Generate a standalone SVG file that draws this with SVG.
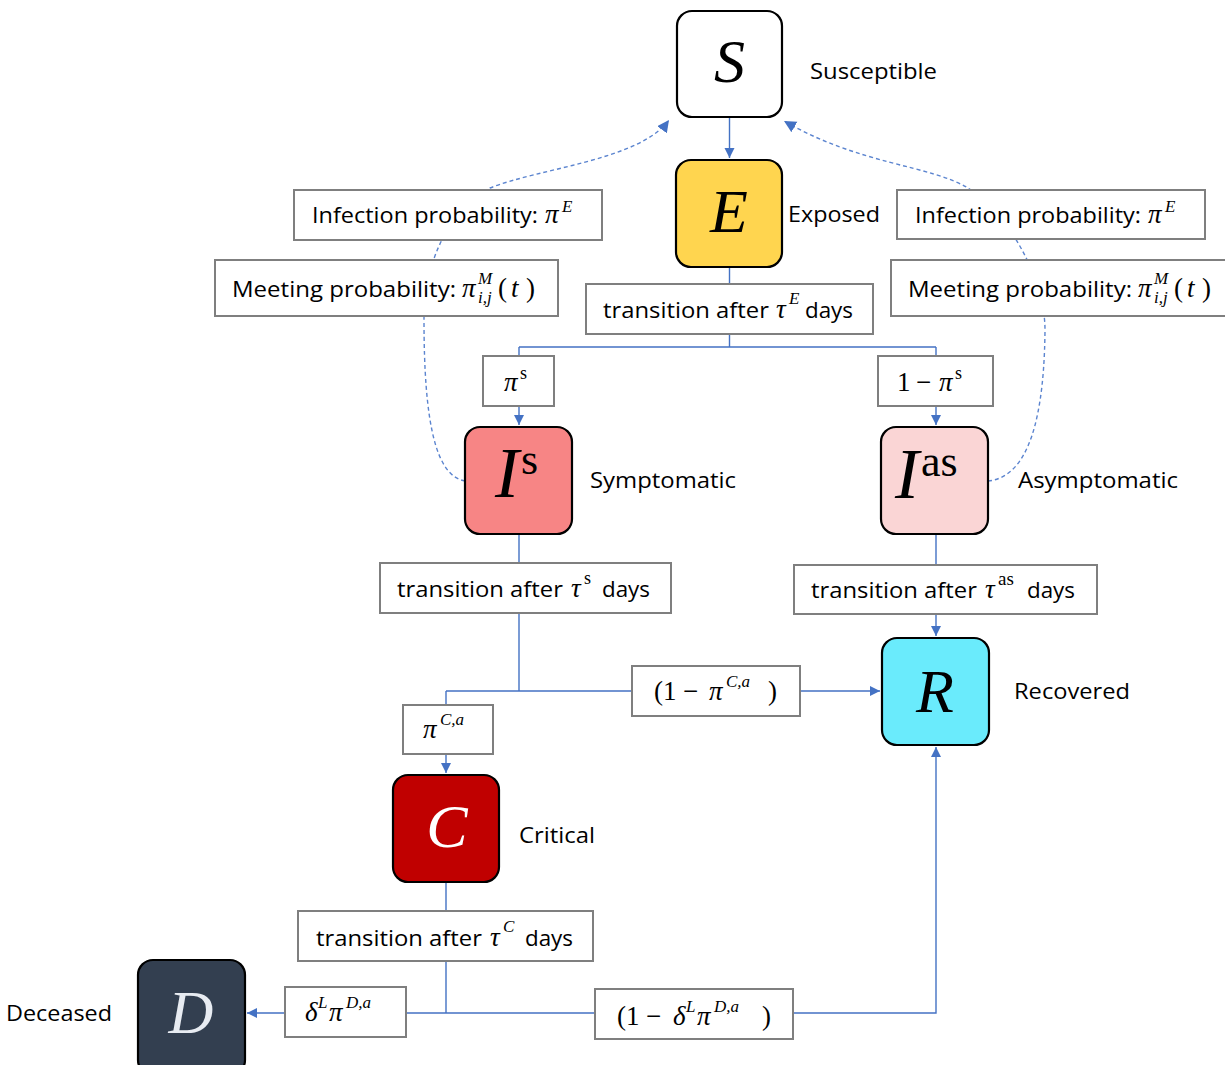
<svg xmlns="http://www.w3.org/2000/svg" width="1225" height="1065" viewBox="0 0 1225 1065">
<style>
.node rect{stroke:#000;stroke-width:2.2}
.box{fill:#fff;stroke:#7f7f7f;stroke-width:2}
.t{font-family:"Open Sans","Noto Sans",sans-serif;font-size:22px;fill:#000}
.m{font-family:"Liberation Serif","DejaVu Serif",serif;font-style:italic;font-size:27px;fill:#000}
.mu{font-family:"Liberation Serif","DejaVu Serif",serif;font-size:27px;fill:#000}
.ms{font-family:"Liberation Serif","DejaVu Serif",serif;font-style:italic;font-size:17px;fill:#000}
.msu{font-family:"Liberation Serif","DejaVu Serif",serif;font-size:18px;fill:#000}
.big{font-family:"Liberation Serif","DejaVu Serif",serif;font-style:italic;font-size:62px;text-anchor:middle}
.line{fill:none;stroke:#4472c4;stroke-width:1.4}
.dash{fill:none;stroke:#5b84cf;stroke-width:1.4;stroke-dasharray:4 3}
</style>
<defs>
<marker id="ah" markerWidth="12" markerHeight="12" refX="10" refY="5" orient="auto" markerUnits="userSpaceOnUse">
<path d="M0,0 L10,5 L0,10 z" fill="#4472c4"/>
</marker>
<marker id="ahd" markerWidth="14" markerHeight="14" refX="12" refY="6" orient="auto" markerUnits="userSpaceOnUse">
<path d="M0,0 L12,6 L0,12 z" fill="#4472c4"/>
</marker>
</defs>
<g id="connectors">
<path class="line" d="M729.5,117 V158" marker-end="url(#ah)"/>
<path class="line" d="M729.5,267 V347 M519,347 H936"/>
<path class="line" d="M519,347 V425" marker-end="url(#ah)"/>
<path class="line" d="M936,347 V425" marker-end="url(#ah)"/>
<path class="line" d="M519,534 V691 M446,691 H880" marker-end="url(#ah)"/>
<path class="line" d="M446,691 V773" marker-end="url(#ah)"/>
<path class="line" d="M936,534 V636" marker-end="url(#ah)"/>
<path class="line" d="M446,882 V1013 M446,1013 H247" marker-end="url(#ah)"/>
<path class="line" d="M446,1013 H936 V747" marker-end="url(#ah)"/>
<path class="dash" d="M465,481 C435,476 424,420 424,320 C424,260 450,210 490,188 C540,168 640,160 669,120" marker-end="url(#ahd)"/>
<path class="dash" d="M988,481 C1020,478 1044,440 1045,330 C1045,280 1010,215 968,188 C930,165 860,165 784,121" marker-end="url(#ahd)"/>
</g>
<g id="labels">
<g id="lbl-inf-left"><rect class="box" x="294" y="190" width="308" height="50"/>
<text class="t" x="312" y="223" textLength="226" lengthAdjust="spacingAndGlyphs">Infection probability:</text>
<text class="m" x="545" y="223">π</text><text class="ms" x="562" y="212">E</text></g>
<g id="lbl-meet-left"><rect class="box" x="215" y="260" width="343" height="56"/>
<text class="t" x="232" y="297" textLength="224" lengthAdjust="spacingAndGlyphs">Meeting probability:</text>
<text class="m" x="462" y="297">π</text><text class="ms" x="478" y="284">M</text><text class="ms" x="478" y="303">i,j</text>
<text class="mu" x="498" y="297">(</text><text class="m" x="511" y="297">t</text><text class="mu" x="526" y="297">)</text></g>
<g id="lbl-inf-right"><rect class="box" x="897" y="190" width="308" height="49"/>
<text class="t" x="915" y="223" textLength="226" lengthAdjust="spacingAndGlyphs">Infection probability:</text>
<text class="m" x="1148" y="223">π</text><text class="ms" x="1165" y="212">E</text></g>
<g id="lbl-meet-right"><rect class="box" x="891" y="260" width="340" height="56"/>
<text class="t" x="908" y="297" textLength="224" lengthAdjust="spacingAndGlyphs">Meeting probability:</text>
<text class="m" x="1138" y="297">π</text><text class="ms" x="1154" y="284">M</text><text class="ms" x="1154" y="303">i,j</text>
<text class="mu" x="1174" y="297">(</text><text class="m" x="1187" y="297">t</text><text class="mu" x="1202" y="297">)</text></g>
<g id="lbl-trE"><rect class="box" x="586" y="284" width="287" height="50"/>
<text class="t" x="603" y="318" textLength="166" lengthAdjust="spacingAndGlyphs">transition after</text>
<text class="m" x="776" y="318">τ</text><text class="ms" x="789" y="304">E</text>
<text class="t" x="805" y="318" textLength="48" lengthAdjust="spacingAndGlyphs">days</text></g>
<g id="lbl-ps"><rect class="box" x="483" y="356" width="71" height="50"/>
<text class="m" x="504" y="391">π</text><text class="msu" x="520" y="379">s</text></g>
<g id="lbl-1ps"><rect class="box" x="878" y="356" width="115" height="50"/>
<text class="mu" x="897" y="391">1</text><text class="mu" x="916" y="391">−</text><text class="m" x="939" y="391">π</text><text class="msu" x="955" y="379">s</text></g>
<g id="lbl-trS"><rect class="box" x="380" y="563" width="291" height="50"/>
<text class="t" x="397" y="597" textLength="166" lengthAdjust="spacingAndGlyphs">transition after</text>
<text class="m" x="571" y="597">τ</text><text class="msu" x="584" y="584">s</text>
<text class="t" x="602" y="597" textLength="48" lengthAdjust="spacingAndGlyphs">days</text></g>
<g id="lbl-trAS"><rect class="box" x="794" y="565" width="303" height="49"/>
<text class="t" x="811" y="598" textLength="166" lengthAdjust="spacingAndGlyphs">transition after</text>
<text class="m" x="985" y="598">τ</text><text class="msu" x="998" y="585" style="font-size:19px">as</text>
<text class="t" x="1027" y="598" textLength="48" lengthAdjust="spacingAndGlyphs">days</text></g>
<g id="lbl-1pc"><rect class="box" x="632" y="666" width="168" height="50"/>
<text class="mu" x="654" y="700">(1</text><text class="mu" x="683" y="700">−</text><text class="m" x="709" y="700">π</text><text class="ms" x="726" y="687">C,a</text><text class="mu" x="768" y="700">)</text></g>
<g id="lbl-pc"><rect class="box" x="403" y="705" width="90" height="49"/>
<text class="m" x="423" y="738">π</text><text class="ms" x="440" y="725">C,a</text></g>
<g id="lbl-trC"><rect class="box" x="298" y="911" width="295" height="50"/>
<text class="t" x="316" y="946" textLength="166" lengthAdjust="spacingAndGlyphs">transition after</text>
<text class="m" x="490" y="946">τ</text><text class="ms" x="503" y="932">C</text>
<text class="t" x="525" y="946" textLength="48" lengthAdjust="spacingAndGlyphs">days</text></g>
<g id="lbl-dpd"><rect class="box" x="285" y="987" width="121" height="50"/>
<text class="m" x="305" y="1021">δ</text><text class="ms" x="318" y="1008">L</text><text class="m" x="329" y="1021">π</text><text class="ms" x="346" y="1008">D,a</text></g>
<g id="lbl-1dpd"><rect class="box" x="595" y="989" width="198" height="50"/>
<text class="mu" x="617" y="1025">(1</text><text class="mu" x="646" y="1025">−</text><text class="m" x="673" y="1025">δ</text><text class="ms" x="686" y="1012">L</text><text class="m" x="697" y="1025">π</text><text class="ms" x="714" y="1012">D,a</text><text class="mu" x="762" y="1025">)</text></g>
</g>
<g id="node-S" class="node"><rect x="677" y="11" width="105" height="106" rx="15" fill="#fff"/>
<text class="big" x="729.5" y="82">S</text><text class="t" x="810" y="79" textLength="127" lengthAdjust="spacingAndGlyphs">Susceptible</text></g>
<g id="node-E" class="node"><rect x="676" y="160" width="106" height="107" rx="15" fill="#ffd54f"/>
<text class="big" x="729" y="232">E</text><text class="t" x="788" y="222" textLength="92" lengthAdjust="spacingAndGlyphs">Exposed</text></g>
<g id="node-Is" class="node"><rect x="465" y="427" width="107" height="107" rx="15" fill="#f78585"/>
<text class="big" x="507" y="497" style="font-size:72px">I</text><text class="mu" x="521" y="474" style="font-size:44px">s</text>
<text class="t" x="590" y="488" textLength="146" lengthAdjust="spacingAndGlyphs">Symptomatic</text></g>
<g id="node-Ias" class="node"><rect x="881" y="427" width="107" height="107" rx="15" fill="#fad5d5"/>
<text class="big" x="907" y="498" style="font-size:72px">I</text><text class="mu" x="921" y="476" style="font-size:44px">as</text>
<text class="t" x="1018" y="488" textLength="160" lengthAdjust="spacingAndGlyphs">Asymptomatic</text></g>
<g id="node-R" class="node"><rect x="882" y="638" width="107" height="107" rx="15" fill="#6aebfc"/>
<text class="big" x="935" y="712">R</text><text class="t" x="1014" y="699" textLength="116" lengthAdjust="spacingAndGlyphs">Recovered</text></g>
<g id="node-C" class="node"><rect x="393" y="775" width="106" height="107" rx="15" fill="#c00000"/>
<text class="big" x="447" y="847" fill="#fff">C</text><text class="t" x="519" y="843" textLength="76" lengthAdjust="spacingAndGlyphs">Critical</text></g>
<g id="node-D" class="node"><rect x="138" y="960" width="107" height="115" rx="15" fill="#333f50"/>
<text class="big" x="191" y="1033" fill="#e8ecf2">D</text><text class="t" x="6" y="1021" textLength="106" lengthAdjust="spacingAndGlyphs">Deceased</text></g>
</svg>
